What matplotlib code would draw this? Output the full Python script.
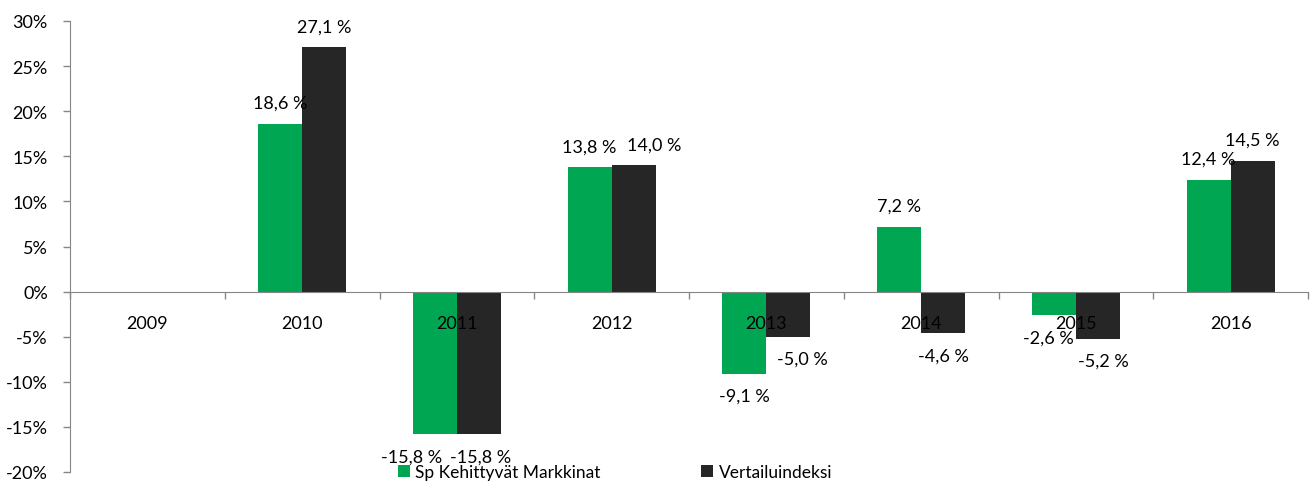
import numpy as np
import matplotlib
matplotlib.use('Agg')
import matplotlib.pyplot as plt
from matplotlib.ticker import FixedLocator

plt.rcParams['font.family'] = ['Lato', 'DejaVu Sans']

years = ['2009', '2010', '2011', '2012', '2013', '2014', '2015', '2016']
fund = [np.nan, 18.6, -15.8, 13.8, -9.1, 7.2, -2.6, 12.4]
index = [np.nan, 27.1, -15.8, 14.0, -5.0, -4.6, -5.2, 14.5]
fund_name = 'Sp Kehittyvät Markkinat'
index_name = 'Vertailuindeksi'
y_ticks = [-20, -15, -10, -5, 0, 5, 10, 15, 20, 25, 30]

# siirrot labeleille (pt), Excel siirsi osan päällekkäisyyden takia
fund_nudge = [0, 0, -17, 0, 0, 0, -4, 0]
index_nudge = [0, 0, 1, 15, 10, 0, 4, 0]

green = '#00A651'
dark = '#262626'
grey = '#868686'
fs = 13

fig = plt.figure(figsize=(13.12, 4.85), dpi=100)
ax = fig.add_axes([70 / 1312, 1 - 473 / 485, 1238 / 1312, 451 / 485])

x = np.arange(len(years))
w = 0.284
b1 = ax.bar(x - w / 2, fund, w, color=green, label=fund_name, edgecolor='none')
b2 = ax.bar(x + w / 2, index, w, color=dark, label=index_name, edgecolor='none')

for bars, vals, nudge in [(b1, fund, fund_nudge), (b2, index, index_nudge)]:
    for r, v, dx in zip(bars, vals, nudge):
        if np.isnan(v):
            continue
        txt = f'{v:.1f} %'.replace('.', ',')
        cx = r.get_x() + r.get_width() / 2
        dy = 15 if v >= 0 else -16
        ax.annotate(txt, (cx, v), xytext=(dx, dy), textcoords='offset points',
                    ha='center', va='center', fontsize=fs, color='black')

ax.set_xlim(-0.5, len(years) - 0.5)
ax.set_ylim(-20, 30)
ax.set_yticks(y_ticks)
ax.set_yticklabels([f'{t}%' for t in y_ticks], fontsize=fs)
ax.tick_params(axis='y', direction='out', length=5, color=grey, width=1, pad=11)

ax.spines['bottom'].set_position(('data', 0))
ax.spines['bottom'].set_color(grey)
ax.spines['left'].set_color(grey)
ax.spines['top'].set_visible(False)
ax.spines['right'].set_visible(False)
ax.set_xticks(x)
ax.set_xticklabels(years, fontsize=fs)
ax.xaxis.set_minor_locator(FixedLocator(np.arange(-0.5, len(years), 1.0)))
ax.tick_params(axis='x', which='major', length=0, pad=17)
ax.tick_params(axis='x', which='minor', direction='out', length=5, color=grey, width=1)

fig.legend(loc='center', bbox_to_anchor=(615 / 1312, 1 - 473 / 485), ncol=2,
           frameon=False, fontsize=12.5, handlelength=0.7, handleheight=0.7,
           handletextpad=0.3, columnspacing=5.8, borderpad=0)

fig.savefig('out.png', dpi=100)
